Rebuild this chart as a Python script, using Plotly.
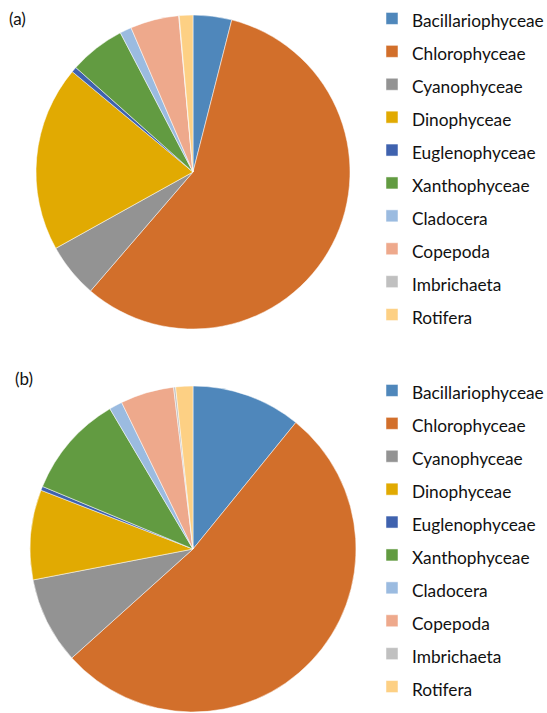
import plotly.graph_objects as go

categories = ["Bacillariophyceae", "Chlorophyceae", "Cyanophyceae", "Dinophyceae",
              "Euglenophyceae", "Xanthophyceae", "Cladocera", "Copepoda",
              "Imbrichaeta", "Rotifera"]
values_a = [3.97, 57.3, 5.6, 19.1, 0.55, 5.75, 1.2, 5.0, 0.05, 1.4]
values_b = [10.85, 52.4, 8.6, 8.9, 0.4, 10.2, 1.3, 5.3, 0.2, 1.7]
colors = ["#4F87BB", "#D26F2B", "#939393", "#E1AA02", "#3F62AE",
          "#629B41", "#9BBBE0", "#EEA98C", "#C0C0C0", "#FDD084"]
panel_labels = ["(a)", "(b)"]

W, H = 547, 713
FONT = "Lato"

def px_dom(x0, x1, y0, y1):
    return dict(x=[x0 / W, x1 / W], y=[1 - y1 / H, 1 - y0 / H])

disp = [f"<span style='font-size:17.3px'>{c}</span>" for c in categories]

fig = go.Figure()
fig.add_trace(go.Pie(labels=disp, values=values_a, sort=False, direction="clockwise",
                     rotation=0, textinfo="none", hoverinfo="label+percent",
                     marker=dict(colors=colors, line=dict(color="white", width=0.5)),
                     domain=px_dom(36, 350, 15, 329), legend="legend", legendgroup="a"))
fig.add_trace(go.Pie(labels=disp, values=values_b, sort=False, direction="clockwise",
                     rotation=0, textinfo="none", hoverinfo="label+percent",
                     marker=dict(colors=colors, line=dict(color="white", width=0.5)),
                     domain=px_dom(30, 356, 386, 712), legend="legend2", legendgroup="b"))

leg_common = dict(font=dict(family=FONT, size=23, color="#111111"),
                  bgcolor="rgba(0,0,0,0)", xanchor="left", yanchor="top",
                  traceorder="normal")
fig.update_layout(
    width=W, height=H,
    margin=dict(l=0, r=0, t=0, b=0, autoexpand=False),
    paper_bgcolor="white", plot_bgcolor="white",
    font=dict(family=FONT),
    legend=dict(x=372 / W, y=1 + 3 / H, **leg_common),
    legend2=dict(x=372 / W, y=1 - 369 / H, **leg_common),
    annotations=[
        dict(text=panel_labels[0], x=7 / W, y=1 - 19 / H, xref="paper", yref="paper",
             xanchor="left", yanchor="middle", showarrow=False,
             font=dict(family=FONT, size=17, color="#111111")),
        dict(text=panel_labels[1], x=13 / W, y=1 - 378 / H, xref="paper", yref="paper",
             xanchor="left", yanchor="middle", showarrow=False,
             font=dict(family=FONT, size=17, color="#111111")),
    ],
)
fig.write_html("out.html", config={"displayModeBar": False},
               post_script="document.body.style.margin='0px';")
